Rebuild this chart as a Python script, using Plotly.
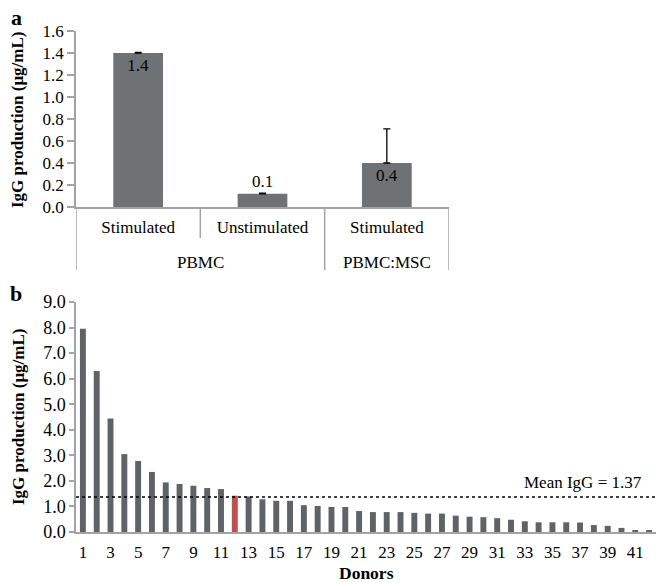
import plotly.graph_objects as go

# The page body adds an 8 px margin, so the figure is 8 px smaller and all
# layout pixel positions are shifted by 8 px.
OFF = 8
W, H = 670 - OFF, 583 - OFF
FONT = "Times New Roman, Liberation Serif, serif"

# ---- Panel a data ----
groups_a = ["PBMC", "PBMC:MSC"]
group_members = [2, 1]          # number of conditions in each group
conditions_a = ["Stimulated", "Unstimulated", "Stimulated"]
igg_a = [1.4, 0.12, 0.4]
err_a = [0.005, 0.005, 0.31]
labels_a = ["1.4", "0.1", "0.4"]

# ---- Panel b data ----
donors = list(range(1, 43))
igg_b = [7.95, 6.3, 4.44, 3.05, 2.78, 2.35, 1.94, 1.88, 1.81, 1.72, 1.68, 1.42,
         1.39, 1.28, 1.22, 1.22, 1.05, 1.02, 0.98, 0.98, 0.82, 0.78, 0.78, 0.78,
         0.75, 0.72, 0.72, 0.64, 0.60, 0.58, 0.54, 0.48, 0.42, 0.38, 0.38, 0.38,
         0.37, 0.27, 0.24, 0.16, 0.08, 0.05]
highlight_donor = 12
mean_igg = 1.37
tick_donors = list(range(1, 42, 2))

GRAY_A = "#6f7275"
GRAY_B = "#5f6367"
RED = "#c0504d"
AXIS = "#a3a3a3"

def px_x(p):
    return (p - OFF) / W

def px_y(p):
    return 1 - (p - OFF) / H

# panel a plot area in page pixels
A_TOP, A_BOT = 31, 207
A_H = A_BOT - A_TOP

xa = list(range(len(conditions_a)))

fig = go.Figure()

fig.add_trace(go.Bar(
    x=xa, y=igg_a, width=0.4,
    marker=dict(color=GRAY_A, line=dict(width=0)),
    error_y=dict(type="data", array=err_a, arrayminus=[0, 0, 0], symmetric=False,
                 color="black", thickness=1.3, width=3.5),
    text=labels_a, textposition=["inside", "outside", "inside"],
    insidetextanchor="end", textangle=0,
    textfont=dict(family=FONT, size=17, color="black"),
    cliponaxis=False, xaxis="x", yaxis="y", showlegend=False,
))

fig.add_trace(go.Bar(
    x=donors, y=igg_b, width=0.43,
    marker=dict(color=[RED if d == highlight_donor else GRAY_B for d in donors],
                line=dict(width=0)),
    xaxis="x2", yaxis="y2", showlegend=False,
))

fig.update_layout(
    width=W, height=H,
    margin=dict(l=0, r=0, t=0, b=0, pad=0, autoexpand=False),
    paper_bgcolor="white", plot_bgcolor="white",
    font=dict(family=FONT, size=17, color="black"),
    xaxis=dict(
        domain=[px_x(76), px_x(449)], range=[-0.5, len(conditions_a) - 0.5],
        tickvals=xa, ticktext=conditions_a,
        showline=True, linecolor=AXIS, linewidth=1.5, ticks="",
        ticklabelstandoff=4,
        tickfont=dict(family=FONT, size=17), showgrid=False, zeroline=False,
        anchor="y", automargin=False,
    ),
    yaxis=dict(
        domain=[px_y(A_BOT), px_y(A_TOP)], range=[0, 1.6], dtick=0.2, tickformat=".1f",
        showline=True, linecolor=AXIS, linewidth=1.5,
        ticks="outside", ticklen=7, tickcolor=AXIS, tickwidth=1.5,
        tickfont=dict(family=FONT, size=17), showgrid=False, zeroline=False,
        anchor="x", automargin=False,
    ),
    xaxis2=dict(
        domain=[px_x(76), px_x(656)], range=[0.5, 42.5],
        tickvals=tick_donors, ticktext=[str(t) for t in tick_donors],
        showline=True, linecolor=AXIS, linewidth=2, ticks="",
        ticklabelstandoff=4,
        tickfont=dict(family=FONT, size=17), showgrid=False, zeroline=False,
        anchor="y2", automargin=False,
    ),
    yaxis2=dict(
        domain=[px_y(532), px_y(302)], range=[0, 9], dtick=1, tickformat=".1f",
        showline=True, linecolor=AXIS, linewidth=1.5,
        ticks="outside", ticklen=5, tickcolor=AXIS, tickwidth=1.5,
        tickfont=dict(family=FONT, size=18), showgrid=False, zeroline=False,
        anchor="x2", automargin=False,
    ),
)

# category / group dividers below panel a axis
short_len = -(238 - A_BOT) / A_H
long_len = -(270 - A_BOT) / A_H
bounds = [-0.5]
for n in group_members:
    bounds.append(bounds[-1] + n)
for b in bounds:
    fig.add_shape(type="line", xref="x", yref="y domain", x0=b, x1=b, y0=0, y1=long_len,
                  line=dict(color=AXIS, width=1.5))
for i in range(len(conditions_a) - 1):
    b = i + 0.5
    if b not in bounds:
        fig.add_shape(type="line", xref="x", yref="y domain", x0=b, x1=b, y0=0,
                      y1=short_len, line=dict(color=AXIS, width=1.5))

annotations = []
for g, lo, hi in zip(groups_a, bounds[:-1], bounds[1:]):
    annotations.append(dict(text=g, xref="x", yref="y domain", x=(lo + hi) / 2,
                            y=-(262 - A_BOT) / A_H, xanchor="center", yanchor="middle",
                            showarrow=False, font=dict(family=FONT, size=17)))

# mean line
fig.add_shape(type="line", xref="x2 domain", yref="y2", x0=0, x1=1,
              y0=mean_igg, y1=mean_igg, line=dict(color="black", width=1.5, dash="dot"))

annotations += [
    dict(text=f"Mean IgG = {mean_igg}", xref="x2", yref="y2", x=41.6, y=mean_igg,
         xanchor="right", yanchor="bottom", yshift=3, showarrow=False,
         font=dict(family=FONT, size=17)),
    dict(text="<b>IgG production (μg/mL)</b>", xref="paper", yref="paper",
         x=px_x(18), y=px_y(120), textangle=-90, showarrow=False,
         xanchor="center", yanchor="middle", font=dict(family=FONT, size=17)),
    dict(text="<b>IgG production (μg/mL)</b>", xref="paper", yref="paper",
         x=px_x(18), y=px_y(417), textangle=-90, showarrow=False,
         xanchor="center", yanchor="middle", font=dict(family=FONT, size=17)),
    dict(text="<b>Donors</b>", xref="paper", yref="paper",
         x=px_x(366), y=px_y(573), showarrow=False,
         xanchor="center", yanchor="middle", font=dict(family=FONT, size=17.5)),
    dict(text="<b>a</b>", xref="paper", yref="paper", x=px_x(16), y=px_y(17),
         showarrow=False, xanchor="center", yanchor="middle",
         font=dict(family=FONT, size=22)),
    dict(text="<b>b</b>", xref="paper", yref="paper", x=px_x(16), y=px_y(293),
         showarrow=False, xanchor="center", yanchor="middle",
         font=dict(family=FONT, size=22)),
]
fig.update_layout(annotations=annotations)

fig.write_html("out.html")
